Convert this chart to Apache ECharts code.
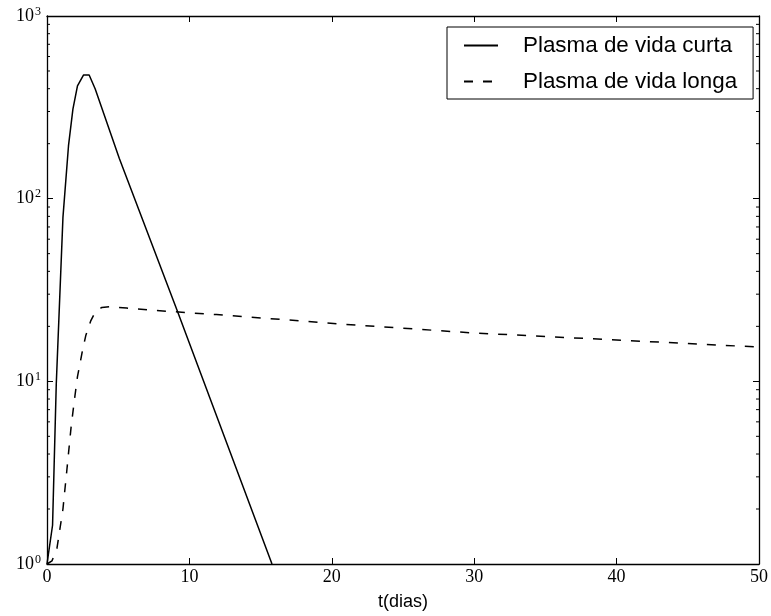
<!DOCTYPE html>
<html>
<head>
<meta charset="utf-8">
<script src="https://cdn.jsdelivr.net/npm/echarts@6/dist/echarts.min.js"></script>
<style>
  html, body { margin: 0; padding: 0; background: #ffffff; }
  #chart { width: 771px; height: 616px; }
</style>
</head>
<body>
<div id="chart"></div>
<script>
// Short-lived plasma: time (days) and concentration
const tCurta = [0, 0.39, 0.65, 1.12, 1.51, 1.82, 2.14, 2.56, 2.96, 3.38, 5.08, 9.16, 15.8];
const vCurta = [1, 1.63, 9.6, 79, 195, 309, 414, 475, 475, 400, 166, 24.2, 1];

// Long-lived plasma: time (days) and concentration
const tLonga = [0, 0.35, 0.7, 1.12, 1.4, 1.7, 1.96, 2.14, 2.45, 2.73, 3.08, 3.38, 3.85, 4.43, 5.59, 7.69, 11.9, 20.98, 29.95, 39.6, 50];
const vLonga = [1, 1.04, 1.22, 2.0, 3.3, 5.7, 8.3, 10.6, 14.2, 17.9, 21.5, 23.9, 25.4, 25.6, 25.2, 24.4, 23.2, 20.5, 18.4, 16.9, 15.4];

const seriesNames = ['Plasma de vida curta', 'Plasma de vida longa'];

// Axis ranges and ticks
const xMin = 0, xMax = 50, xStep = 10;
const yMin = 1, yMax = 1000;
// Minor ticks of the logarithmic axis
const yMinorTicks = [2, 3, 4, 5, 6, 7, 8, 9, 20, 30, 40, 50, 60, 70, 80, 90, 200, 300, 400, 500, 600, 700, 800, 900];

const pair = (xs, ys) => xs.map((x, i) => [x, ys[i]]);

const serifFont = '"Liberation Serif", "DejaVu Serif", serif';
const sansFont = '"Liberation Sans", Arial, sans-serif';
const frame = { show: true, onZero: false, lineStyle: { color: '#000', width: 1.3 } };
const majorTick = { show: true, inside: true, length: 6, lineStyle: { color: '#000', width: 1 } };
const hidden = 'rgba(0,0,0,0)';

const chart = echarts.init(document.getElementById('chart'), null, { renderer: 'canvas' });

chart.setOption({
  animation: false,
  backgroundColor: '#ffffff',
  grid: { left: 47, right: 9, top: 16, bottom: 47, containLabel: false },
  legend: {
    data: seriesNames,
    orient: 'vertical',
    left: 447,
    top: 27,
    padding: [7, 16, 6, 16],
    borderColor: '#000',
    borderWidth: 1,
    borderRadius: 0,
    backgroundColor: '#fff',
    itemWidth: 34,
    itemHeight: 14,
    itemGap: 13,
    // only the line sample is shown, no marker in its middle
    itemStyle: { color: hidden, borderColor: hidden, borderWidth: 0, opacity: 0 },
    textStyle: { fontFamily: sansFont, fontSize: 22.4, color: '#000', lineHeight: 23, padding: [0, 0, 0, 20] }
  },
  xAxis: [
    {
      type: 'value', min: xMin, max: xMax, interval: xStep, position: 'bottom',
      axisLine: frame, axisTick: majorTick, splitLine: { show: false },
      axisLabel: { fontFamily: serifFont, fontSize: 18, color: '#000', margin: 4 },
      name: 't(dias)', nameLocation: 'middle', nameGap: 29,
      nameTextStyle: { fontFamily: sansFont, fontSize: 18, color: '#000' }
    },
    {
      type: 'value', min: xMin, max: xMax, interval: xStep, position: 'top',
      axisLine: frame, axisTick: majorTick, axisLabel: { show: false }, splitLine: { show: false }
    }
  ],
  yAxis: [
    {
      type: 'log', logBase: 10, min: yMin, max: yMax, position: 'left',
      axisLine: frame, axisTick: majorTick, splitLine: { show: false },
      axisLabel: {
        margin: 6,
        formatter: v => '{b|10}{s|' + Math.round(Math.log10(v)) + '}',
        rich: {
          b: { fontFamily: serifFont, fontSize: 18, color: '#000' },
          s: { fontFamily: serifFont, fontSize: 12, color: '#000', padding: [0, 0, 9, 1] }
        }
      }
    },
    {
      type: 'log', logBase: 10, min: yMin, max: yMax, position: 'right',
      axisLine: frame, axisTick: majorTick, axisLabel: { show: false }, splitLine: { show: false }
    }
  ],
  series: [
    {
      name: seriesNames[0], type: 'line', data: pair(tCurta, vCurta),
      symbol: 'none', clip: true,
      lineStyle: { color: '#000', width: 1.5, type: 'solid' },
      itemStyle: { color: '#000' }
    },
    {
      name: seriesNames[1], type: 'line', data: pair(tLonga, vLonga),
      symbol: 'none', clip: true,
      lineStyle: { color: '#000', width: 1.5, type: [9, 10] },
      itemStyle: { color: '#000' }
    },
    {
      // minor ticks of the log axis, on the left and right frame edges
      type: 'custom', silent: true, clip: false,
      data: yMinorTicks.map(v => [xMin, v]),
      renderItem: (params, api) => {
        const v = api.value(1);
        const l = api.coord([xMin, v]);
        const r = api.coord([xMax, v]);
        const st = { stroke: '#000', lineWidth: 1 };
        return {
          type: 'group',
          children: [
            { type: 'line', shape: { x1: l[0], y1: l[1], x2: l[0] + 3, y2: l[1] }, style: st },
            { type: 'line', shape: { x1: r[0], y1: r[1], x2: r[0] - 3, y2: r[1] }, style: st }
          ]
        };
      }
    }
  ]
});
</script>
</body>
</html>
